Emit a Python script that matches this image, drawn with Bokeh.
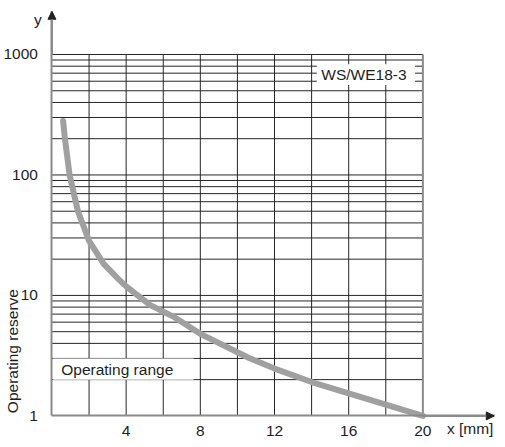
import math
from bokeh.plotting import figure
from bokeh.models import Range1d, FixedTicker, Label, BoxAnnotation, Arrow, NormalHead
from bokeh.embed import file_html
from bokeh.resources import INLINE

# ---- data ----
distance_mm = [0.6, 0.7, 0.95, 1.4, 2.0, 2.8, 3.6, 4.0, 5.3, 6.6, 8.0, 10.6, 12.0, 14.0, 16.0, 18.0, 20.0]
operating_reserve = [280, 200, 100, 50, 28.4, 18.2, 13.6, 11.9, 8.3, 6.6, 4.8, 3.04, 2.47, 1.91, 1.54, 1.24, 1.0]

x_ticks = [4, 8, 12, 16, 20]
x_tick_labels = ["4", "8", "12", "16", "20"]
y_ticks = [1, 10, 100, 1000]
y_tick_labels = ["1", "10", "100", "1000"]
x_grid = [2, 4, 6, 8, 10, 12, 14, 16, 18]
x_max_grid = 20
y_grid = [m * 10 ** e for e in range(3) for m in range(1, 10)][1:] + [1000]

FONT = "Liberation Sans"
FS = "15.5px"
TXT = "#1e1e1e"
GRID = "#262626"
AXIS = "#8a8a8a"

p = figure(width=496, height=439, output_backend="svg", toolbar_location=None,
           y_axis_type="log",
           x_range=Range1d(-2.775, 23.97), y_range=Range1d(0.637, 2807),
           min_border_left=0, min_border_right=0, min_border_top=0, min_border_bottom=0)
p.outline_line_color = None
p.xgrid.visible = False
p.ygrid.visible = False
p.background_fill_color = "white"

# grid drawn as segments bounded by the chart area
p.segment(x0=x_grid, y0=[1] * len(x_grid), x1=x_grid, y1=[1000] * len(x_grid),
          line_color=GRID, line_width=1)
p.segment(x0=[0] * len(y_grid), y0=y_grid, x1=[x_max_grid] * len(y_grid), y1=y_grid,
          line_color=GRID, line_width=1)
p.segment(x0=[x_max_grid], y0=[1], x1=[x_max_grid], y1=[1000], line_color=AXIS, line_width=2)

# curve
p.line(distance_mm, operating_reserve, line_color="#a0a0a0", line_width=6, line_cap="round")

# axes, placed at x = 0 and y = 1 inside the frame
for ax in (p.xaxis[0], p.yaxis[0]):
    ax.axis_line_color = AXIS
    ax.axis_line_width = 2
    ax.major_tick_line_color = None
    ax.minor_tick_line_color = None
    ax.major_label_text_font = FONT
    ax.major_label_text_font_size = FS
    ax.major_label_text_color = TXT

p.xaxis.fixed_location = 1
p.xaxis.bounds = (0, 23.87)
p.xaxis.ticker = FixedTicker(ticks=x_ticks)
p.xaxis.major_label_overrides = {float(t): l for t, l in zip(x_ticks, x_tick_labels)}
p.xaxis.major_label_standoff = 4
p.yaxis.fixed_location = 0
p.yaxis.bounds = (1, 2284)
p.yaxis.ticker = FixedTicker(ticks=y_ticks)
p.yaxis.major_label_overrides = {float(t): l for t, l in zip(y_ticks, y_tick_labels)}
p.yaxis.major_label_standoff = 8

# arrow heads of axes
p.add_layout(Arrow(x_start=0, y_start=1000, x_end=0, y_end=2284,
                   line_color=AXIS, line_width=2,
                   end=NormalHead(size=8, fill_color="#222", line_color="#222")))
p.add_layout(Arrow(x_start=20, y_start=1, x_end=23.85, y_end=1,
                   line_color=AXIS, line_width=2,
                   end=NormalHead(size=8, fill_color="#222", line_color="#222")))

# white boxes behind in-chart labels
p.add_layout(BoxAnnotation(left=14.28, right=19.58, bottom=559, top=829,
                           fill_color="white", fill_alpha=1, line_color=None))
p.add_layout(BoxAnnotation(left=0.06, right=7.64, bottom=2, top=3,
                           fill_color="white", fill_alpha=1, line_color=None))

def lab(x, y, text, align="center", angle=0.0):
    p.add_layout(Label(x=x, y=y, text=text, text_align=align, text_baseline="middle",
                       text_font=FONT, text_font_size=FS, text_color=TXT, angle=angle))

lab(16.82, 687, "WS/WE18-3")
lab(0.5, 2.45, "Operating range", align="left")
lab(-0.76, 1965, "y")
lab(22.55, 0.78, "x [mm]")
lab(-2.11, 3.45, "Operating reserve", angle=math.pi / 2)

open("out.html", "w").write(file_html(p, INLINE))
